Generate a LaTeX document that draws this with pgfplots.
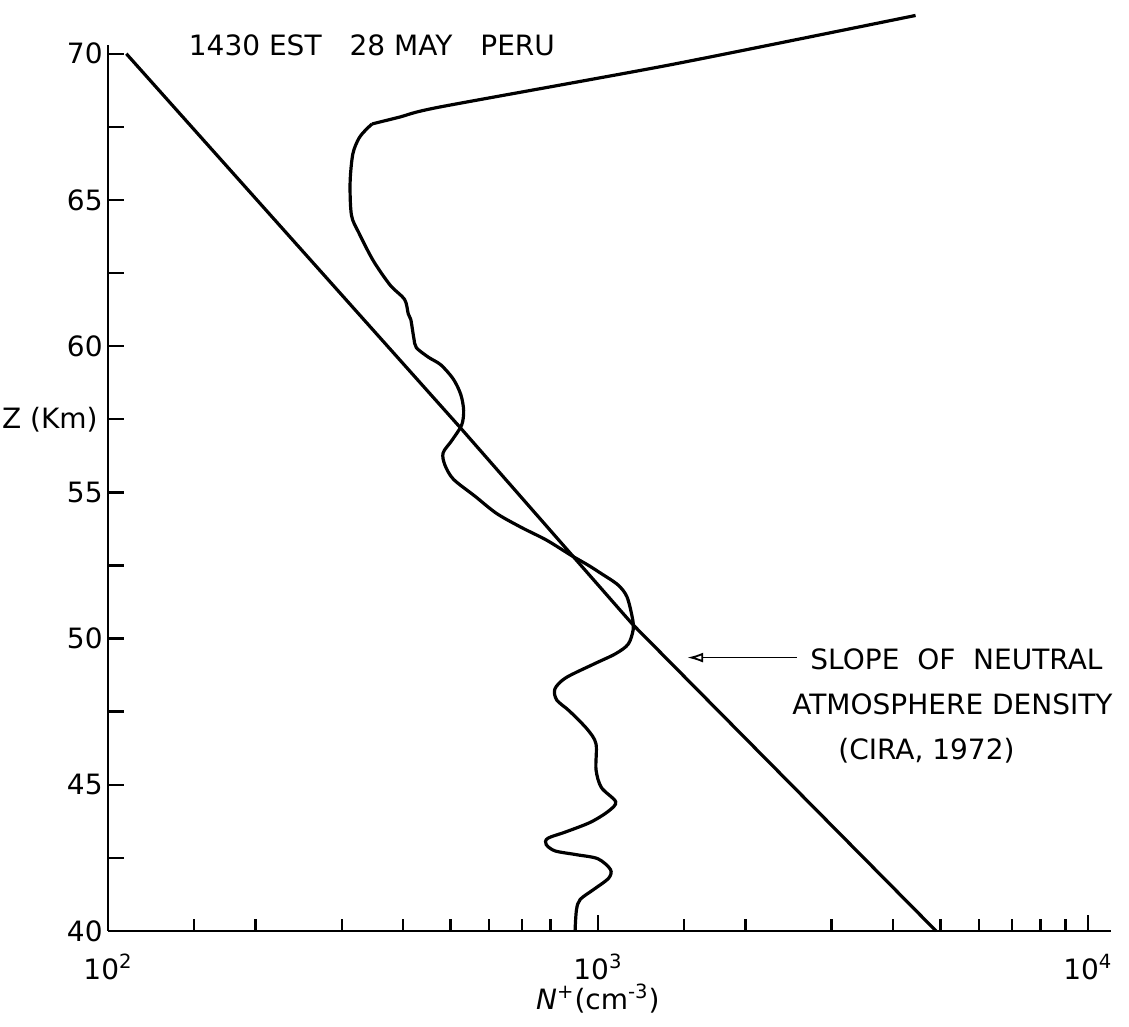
\documentclass[border=0pt]{standalone}
\usepackage{fontspec}
\setmainfont{DejaVu Sans}
\usepackage{pgfplots}
\pgfplotsset{compat=1.18}
\usetikzlibrary{arrows.meta}

\begin{document}
\begin{tikzpicture}[font=\fontsize{14}{17}\selectfont]
\begin{axis}[
  xmode=log,
  scale only axis,
  width=501.5pt, height=443pt,
  xmin=100, xmax=11150, ymin=40, ymax=70.3,
  clip=false,
  axis x line*=bottom, axis y line*=left,
  axis line style={line width=1.4pt, -},
  tick align=inside,
  major tick length=8pt, minor tick length=6pt,
  every tick/.style={black, line width=1.2pt},
  xtick={100,1000,10000},
  xticklabels={10\textsuperscript{2},10\textsuperscript{3},10\textsuperscript{4}},
  minor xtick={150,200,300,400,500,600,700,800,900,1500,2000,3000,4000,5000,6000,7000,8000,9000},
  ytick={40,42.5,45,47.5,50,52.5,55,57.5,60,62.5,65,67.5,70},
  yticklabels={40,,45,,50,,55,,60,,65,,70},
  yticklabel style={inner xsep=0pt, xshift=-2.5pt},
  xticklabel style={anchor=base, yshift=-24pt},
  xlabel={\textit{N}\textsuperscript{+}(cm\textsuperscript{-3})},
  xlabel style={at={(rel axis cs:0.4884,0)}, anchor=base, yshift=-39pt, inner sep=0pt},
  ylabel={Z (Km)},
  ylabel style={rotate=-90, at={(rel axis cs:0,0.5776)}, anchor=east, xshift=-5pt, inner sep=0pt},
]
  % slope of neutral atmosphere density (CIRA 1972)
  \addplot[black, line width=1.6pt] coordinates {
    (109,70) (522,57.24) (1175,50.5) (4900,40)
  };

  % measured N+ profile, upper branch
  \addplot[black, line width=1.6pt, smooth, tension=0.4] coordinates {
    (346,67.6) (395,67.84) (476,68.18) (1413,69.63) (4450,71.31)
  };

  % measured N+ profile, below the kink
  \addplot[black, line width=1.6pt, smooth, tension=0.5] coordinates {
    (346,67.6) (336,67.4) (325,67.1) (316,66.57) (312,65.59) (314,64.48)
    (325,63.88) (348,62.92) (377,62.08) (403,61.60) (410,61.11)
    (415,60.91) (421,60.27) (426,59.95) (451,59.62) (478,59.36)
    (507,58.87) (525,58.34) (532,57.80) (527,57.30) (503,56.77)
    (483,56.35) (487,55.94) (507,55.45) (561,54.87) (621,54.28)
    (698,53.80) (785,53.37) (883,52.84) (953,52.52) (1010,52.25)
    (1098,51.84) (1146,51.43) (1176,50.7) (1180,50.3) (1153,49.81)
    (1086,49.48) (984,49.14) (860,48.66) (817,48.28) (824,47.90)
    (875,47.52) (951,46.9) (991,46.4) (991,45.52) (1016,44.91)
    (1087,44.42) (1051,44.10) (966,43.72) (860,43.39) (790,43.17)
    (784,42.96) (817,42.74) (904,42.61) (1000,42.47) (1061,42.10)
    (1051,41.80) (984,41.44) (920,41.08) (904,40.72) (898,40.0)
  };

  \node[anchor=base west, inner sep=0pt] at (axis cs:146,69.93) {1430 EST\hspace{1em}28 MAY\hspace{1em}PERU};
  \node[anchor=base west, inner sep=0pt] at (axis cs:2710,48.94) {SLOPE\ \ OF\ \ NEUTRAL};
  \node[anchor=base west, inner sep=0pt] at (axis cs:2489,47.40) {ATMOSPHERE DENSITY};
  \node[anchor=base west, inner sep=0pt] at (axis cs:3090,45.86) {(CIRA, 1972)};
  \draw[line width=0.9pt, -{Latex[open, length=8pt, width=5pt]}]
    (axis cs:2547,49.35) -- (axis cs:1521,49.35);

  \coordinate (sw) at (rel axis cs:0,0);
\end{axis}
\pgfresetboundingbox
\path[use as bounding box] (sw) ++(-54pt,-48pt) rectangle ++(564.5pt,513.5pt);
\end{tikzpicture}
\end{document}
